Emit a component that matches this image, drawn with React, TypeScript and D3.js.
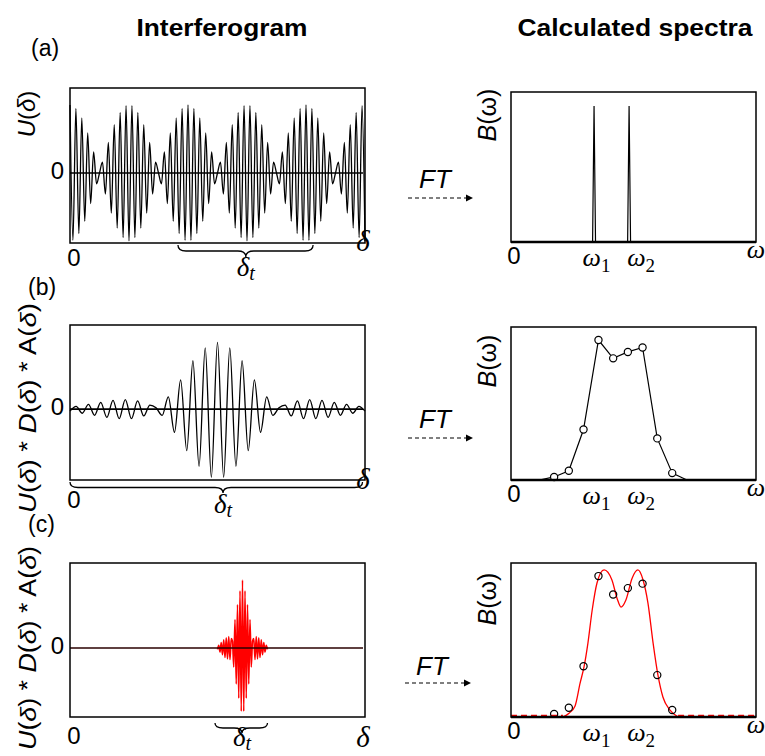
import React from "react";
import * as d3 from "d3";

// ---------------- data ----------------
// (a) successive extremes (peaks / troughs) of the interferogram U(δ)
const interferogramA = [
  1, -0.99, 0.95, -0.89, 0.81, -0.71, 0.59, -0.45, 0.31, -0.16, 0, 0.16, -0.31, 0.45, -0.59, 0.71, -0.81, 0.89, -0.95, 0.99,
  -1, 0.99, -0.95, 0.89, -0.81, 0.71, -0.59, 0.45, -0.31, 0.16, 0, -0.16, 0.31, -0.45, 0.59, -0.71, 0.81, -0.89, 0.95, -0.99,
  1, -0.99, 0.95, -0.89, 0.81, -0.71, 0.59, -0.45, 0.31, -0.16, 0, 0.16, -0.31, 0.45, -0.59, 0.71, -0.81, 0.89, -0.95, 0.99,
  -1, 0.99, -0.95, 0.89, -0.81, 0.71, -0.59, 0.45, -0.31, 0.16, 0, -0.16, 0.31, -0.45, 0.59, -0.71, 0.81, -0.89, 0.95, -0.99,
  1, -0.99, 0.95, -0.89, 0.81, -0.71, 0.59, -0.45, 0.31, -0.16, 0, 0.16, -0.31, 0.45, -0.59, 0.71, -0.81, 0.89, -0.95, 0.99,
  -1,
];
const deltaStartA = 0;
const deltaDomainA: [number, number] = [0, 100];
const ampDomainA: [number, number] = [-1.03, 1.25];
const braceA = [36.6, 59.6, 82.4];

// (b) extremes of U(δ)*D(δ)*A(δ)
const interferogramB = [
  -0.03, 0.04, -0.06, 0.07, -0.09, 0.1, -0.12, 0.13, -0.14, 0.14, -0.14, 0.12, -0.1, 0.06, 0.02, -0.09, 0.18, -0.34, 0.43, -0.61,
  0.71, -0.84, 0.9, -1.0, 0.98, -1.0, 0.9, -0.84, 0.71, -0.61, 0.43, -0.34, 0.18, -0.09, 0.02, 0.06, -0.1, 0.12, -0.14, 0.14,
  -0.14, 0.13, -0.12, 0.1, -0.09, 0.07, -0.06, 0.04, -0.03,
];
const deltaStartB = -24;
const deltaDomainB: [number, number] = [-24, 24];
const ampDomainB: [number, number] = [-1.04, 1.235];
const braceB = [-24, 0.9, 23.6];

// (c) extremes of the short, apodised burst
const interferogramC = [
  -0.02, 0.04, -0.06, 0.08, -0.1, 0.12, -0.14, 0.15, -0.16, 0.17, -0.17, 0.14, 0.1, -0.28, 0.42, -0.53, 0.64, -0.74, 0.84, -0.93,
  1.0, -0.93, 0.84, -0.74, 0.64, -0.53, 0.42, -0.28, 0.1, 0.14, -0.17, 0.17, -0.16, 0.15, -0.14, 0.12, -0.1, 0.08, -0.06, 0.04,
  -0.02,
];
const deltaStartC = -20;
const deltaDomainC: [number, number] = [-138, 98];
const ampDomainC: [number, number] = [-1.015, 1.25];
const braceC = [-22, -0.4, 20];

// spectra
const omegaDomain: [number, number] = [0, 100];
const lineOmegaA = [33.9, 48.2];
const lineHeightA = [0.907, 0.907];
const sampleOmega = [17.6, 23.6, 29.6, 35.7, 41.7, 47.7, 53.7, 59.7, 65.8];
const sampleB = [0.02, 0.06, 0.33, 0.915, 0.795, 0.837, 0.866, 0.272, 0.045];
const fitOmega = [21.2, 23.7, 26.1, 28.2, 29.8, 31.4, 33.1, 35.1, 38.0, 41.2, 43.3, 44.9, 46.9, 49.4, 51.8, 53.9, 55.9, 58.0, 60.0, 62.0, 64.9, 68.2];
const fitB = [0, 0.025, 0.07, 0.22, 0.325, 0.48, 0.69, 0.87, 0.955, 0.89, 0.77, 0.714, 0.76, 0.9, 0.955, 0.89, 0.74, 0.48, 0.27, 0.13, 0.045, 0];
const omegaTickSubs = ["1", "2"];
const omegaTickAt = [34.9, 53.1];

const panelLetters = ["(a)", "(b)", "(c)"];
const titles = ["Interferogram", "Calculated spectra"];

// ---------------- drawing ----------------
const sans = "'Liberation Sans', Arial, sans-serif";
const serif = "'Liberation Serif', 'Times New Roman', serif";
const LX0 = 70, LX1 = 365, RX0 = 511, RX1 = 756;

function bracePath(x1: number, xm: number, x2: number, y: number, h: number) {
  const q = Math.min(8, (x2 - x1) / 6);
  const ym = y + h * 0.5;
  return `M${x1},${y} Q${x1},${ym} ${x1 + q},${ym} L${xm - q},${ym} Q${xm},${ym} ${xm},${y + h} Q${xm},${ym} ${xm + q},${ym} L${x2 - q},${ym} Q${x2},${ym} ${x2},${y}`;
}

function Interferogram(p: {
  values: number[]; start: number; domain: [number, number]; amp: [number, number];
  top: number; bottom: number; color: string; width: number; brace: number[]; braceY: number; braceH: number;
  zeroBase: number; endDeltaBase: number; deltaTBase: number; zeroColor: string;
}) {
  const x = d3.scaleLinear().domain(p.domain).range([LX0, LX1]);
  const y = d3.scaleLinear().domain(p.amp).range([p.bottom, p.top]);
  const line = d3.line<number>().x((_, i) => x(p.start + i)).y((v) => y(v)).curve(d3.curveMonotoneX);
  const [b1, bm, b2] = p.brace.map((d) => x(d));
  return (
    <g>
      <path d={line(p.values) || ""} fill="none" stroke={p.color} strokeWidth={p.width} />
      <line x1={LX0} x2={LX1 - 2} y1={y(0)} y2={y(0)} stroke={p.zeroColor} strokeWidth={1.6} />
      <rect x={LX0} y={p.top} width={LX1 - LX0} height={p.bottom - p.top} fill="none" stroke="#000" strokeWidth={1.5} />
      <text x={64} y={y(0) + 6} textAnchor="end" fontFamily={sans} fontSize={24}>0</text>
      <text x={74} y={p.zeroBase} textAnchor="middle" fontFamily={sans} fontSize={24}>0</text>
      <text x={363} y={p.endDeltaBase} textAnchor="middle" fontFamily={serif} fontStyle="italic" fontSize={29}>δ</text>
      <path d={bracePath(b1, bm, b2, p.braceY, p.braceH)} fill="none" stroke="#000" strokeWidth={1.3} />
      <text x={bm} y={p.deltaTBase} textAnchor="middle" fontFamily={serif} fontStyle="italic" fontSize={27}>
        δ<tspan fontSize={20} dy={4}>t</tspan>
      </text>
    </g>
  );
}

function SpectrumFrame(p: { top: number; bottom: number; children?: React.ReactNode }) {
  const x = d3.scaleLinear().domain(omegaDomain).range([RX0, RX1]);
  return (
    <g>
      {p.children}
      <rect x={RX0} y={p.top} width={RX1 - RX0} height={p.bottom - p.top} fill="none" stroke="#000" strokeWidth={1.5} />
      <line x1={RX0} x2={RX1} y1={p.bottom} y2={p.bottom} stroke="#000" strokeWidth={2.4} />
      <text x={514} y={p.bottom + 22} textAnchor="middle" fontFamily={sans} fontSize={24}>0</text>
      {omegaTickSubs.map((s, i) => (
        <text key={s} x={x(omegaTickAt[i])} y={p.bottom + 24} textAnchor="middle" fontFamily={serif} fontStyle="italic" fontSize={26}>
          ω<tspan fontSize={19} fontStyle="normal" dy={6}>{s}</tspan>
        </text>
      ))}
      <text x={756} y={p.bottom + 16} textAnchor="middle" fontFamily={serif} fontStyle="italic" fontSize={26}>ω</text>
    </g>
  );
}

function FTArrow(p: { base: number; ay: number; x1: number; x2: number }) {
  return (
    <g>
      <text x={p.x1 + 11} y={p.base} fontFamily={sans} fontStyle="italic" fontSize={26}>FT</text>
      <line x1={p.x1} x2={p.x2 - 6} y1={p.ay} y2={p.ay} stroke="#000" strokeWidth={1.2} strokeDasharray="4,3" />
      <path d={`M${p.x2},${p.ay} L${p.x2 - 7},${p.ay - 3.5} L${p.x2 - 7},${p.ay + 3.5} Z`} fill="#000" />
    </g>
  );
}

function VLabel(p: { x: number; y: number; children: React.ReactNode; size?: number; len?: number }) {
  return (
    <text transform={`translate(${p.x},${p.y}) rotate(-90)`} textAnchor="middle" fontFamily={sans} fontSize={p.size || 24}
      textLength={p.len} lengthAdjust={p.len ? "spacingAndGlyphs" : undefined}>
      {p.children}
    </text>
  );
}

const UDA = (
  <>
    <tspan fontStyle="italic">U</tspan>(<tspan fontStyle="italic">δ</tspan>) * <tspan fontStyle="italic">D</tspan>(
    <tspan fontStyle="italic">δ</tspan>) * A(<tspan fontStyle="italic">δ</tspan>)
  </>
);

export default function App() {
  const xw = d3.scaleLinear().domain(omegaDomain).range([RX0, RX1]);
  const specLine = (top: number, bottom: number) => {
    const yb = d3.scaleLinear().domain([0, 1]).range([bottom, top]);
    return { yb, gen: d3.line<[number, number]>().x((d) => xw(d[0])).y((d) => yb(d[1])) };
  };

  // (a) spectrum
  const sa = specLine(92, 242);
  const spikes = lineOmegaA.map((w, i) => sa.gen([[w - 0.6, 0], [w, lineHeightA[i]], [w + 0.6, 0]]) || "");

  // (b) spectrum
  const sb = specLine(327, 480);
  const step = sampleOmega[1] - sampleOmega[0];
  const bPts: [number, number][] = [
    [omegaDomain[0], 0],
    [sampleOmega[0] - step, 0],
    ...sampleOmega.map((w, i) => [w, sampleB[i]] as [number, number]),
    [sampleOmega[sampleOmega.length - 1] + step, 0],
    [omegaDomain[1], 0],
  ];

  // (c) spectrum
  const sc = specLine(563, 717);
  const fitGen = d3.line<number>().x((_, i) => xw(fitOmega[i])).y((v) => sc.yb(v)).curve(d3.curveMonotoneX);

  return (
    <svg width={765} height={756} style={{ position: "absolute", left: 0, top: 0, background: "#fff" }}>
      <rect width={765} height={756} fill="#fff" />
      <text x={222} y={36} textAnchor="middle" fontFamily={sans} fontWeight="bold" fontSize={23} textLength={171} lengthAdjust="spacingAndGlyphs">{titles[0]}</text>
      <text x={635} y={36} textAnchor="middle" fontFamily={sans} fontWeight="bold" fontSize={23} textLength={235} lengthAdjust="spacingAndGlyphs">{titles[1]}</text>

      <text x={31} y={56} fontFamily={sans} fontSize={23}>{panelLetters[0]}</text>
      <text x={28} y={295} fontFamily={sans} fontSize={23}>{panelLetters[1]}</text>
      <text x={28} y={532} fontFamily={sans} fontSize={23}>{panelLetters[2]}</text>

      {/* (a) */}
      <VLabel x={35} y={114}>
        <tspan fontStyle="italic">U</tspan>(<tspan fontStyle="italic">δ</tspan>)
      </VLabel>
      <Interferogram values={interferogramA} start={deltaStartA} domain={deltaDomainA} amp={ampDomainA} top={88} bottom={243}
        color="#000" width={1.3} brace={braceA} braceY={245} braceH={12} zeroBase={266} endDeltaBase={251} deltaTBase={276} zeroColor="#000" />
      <FTArrow base={188} ay={198} x1={408} x2={473} />
      <VLabel x={496} y={115} size={25}>
        <tspan fontStyle="italic">B</tspan>(ω)
      </VLabel>
      <SpectrumFrame top={92} bottom={242}>
        {spikes.map((d, i) => <path key={i} d={d} fill="none" stroke="#000" strokeWidth={1.2} />)}
      </SpectrumFrame>

      {/* (b) */}
      <VLabel x={36} y={408} size={23} len={210}>{UDA}</VLabel>
      <Interferogram values={interferogramB} start={deltaStartB} domain={deltaDomainB} amp={ampDomainB} top={325} bottom={480}
        color="#000" width={1.3} brace={braceB} braceY={482} braceH={11} zeroBase={508} endDeltaBase={489} deltaTBase={513} zeroColor="#000" />
      <FTArrow base={428} ay={438} x1={408} x2={473} />
      <VLabel x={496} y={361} size={25}>
        <tspan fontStyle="italic">B</tspan>(ω)
      </VLabel>
      <SpectrumFrame top={327} bottom={480}>
        <path d={sb.gen(bPts) || ""} fill="none" stroke="#000" strokeWidth={1.2} />
        {sampleOmega.map((w, i) => (
          <circle key={i} cx={xw(w)} cy={sb.yb(sampleB[i])} r={3.6} fill="#fff" stroke="#000" strokeWidth={1.2} />
        ))}
      </SpectrumFrame>

      {/* (c) */}
      <VLabel x={36} y={648} size={23} len={204}>{UDA}</VLabel>
      <Interferogram values={interferogramC} start={deltaStartC} domain={deltaDomainC} amp={ampDomainC} top={563} bottom={717}
        color="#f00" width={1.6} brace={braceC} braceY={723} braceH={10} zeroBase={744} endDeltaBase={747} deltaTBase={746} zeroColor="#2a0000" />
      <FTArrow base={675} ay={683} x1={405} x2={471} />
      <VLabel x={496} y={599} size={25}>
        <tspan fontStyle="italic">B</tspan>(ω)
      </VLabel>
      <SpectrumFrame top={563} bottom={717}>
        <line x1={xw(omegaDomain[0])} x2={xw(fitOmega[0])} y1={715.3} y2={715.3} stroke="#f00" strokeWidth={1.2} strokeDasharray="6,4" />
        <line x1={xw(fitOmega[fitOmega.length - 1])} x2={xw(omegaDomain[1])} y1={715.3} y2={715.3} stroke="#f00" strokeWidth={1.2} strokeDasharray="6,4" />
        <path d={fitGen(fitB) || ""} fill="none" stroke="#f00" strokeWidth={1.3} />
        {sampleOmega.map((w, i) => (
          <circle key={i} cx={xw(w)} cy={sc.yb(sampleB[i])} r={3.6} fill="none" stroke="#000" strokeWidth={1.2} />
        ))}
      </SpectrumFrame>
    </svg>
  );
}
